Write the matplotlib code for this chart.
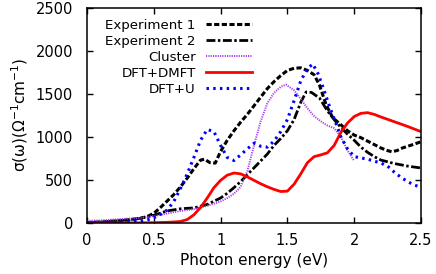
import numpy as np
import matplotlib
matplotlib.use('Agg')
import matplotlib.pyplot as plt

# Data
e_exp1 = [0, 0.1, 0.2, 0.3, 0.4, 0.45, 0.5, 0.55, 0.6, 0.65, 0.7, 0.75, 0.8, 0.85, 0.88, 0.92, 0.96,
          1.0, 1.05, 1.1, 1.15, 1.2, 1.25, 1.3, 1.35, 1.4, 1.45, 1.5, 1.55, 1.6, 1.65, 1.7, 1.74,
          1.79, 1.84, 1.9, 1.95, 2.0, 2.05, 2.1, 2.15, 2.2, 2.25, 2.28, 2.32, 2.36, 2.4, 2.45, 2.5]
s_exp1 = [5, 12, 22, 35, 55, 75, 112, 180, 255, 330, 420, 520, 630, 730, 740, 700, 695,
          830, 960, 1070, 1170, 1260, 1360, 1460, 1560, 1640, 1710, 1770, 1795, 1800, 1770, 1720, 1600,
          1370, 1220, 1140, 1070, 1020, 990, 950, 910, 870, 840, 827, 840, 870, 890, 915, 943]

e_exp2 = [0, 0.1, 0.2, 0.3, 0.4, 0.5, 0.6, 0.7, 0.8, 0.9, 1.0, 1.05, 1.1, 1.15, 1.2, 1.25, 1.3,
          1.35, 1.4, 1.45, 1.5, 1.55, 1.6, 1.64, 1.68, 1.74, 1.8, 1.85, 1.9, 1.95, 2.0, 2.05, 2.1,
          2.15, 2.2, 2.3, 2.4, 2.5]
s_exp2 = [5, 12, 22, 35, 55, 90, 140, 165, 175, 215, 290, 345, 410, 480, 560, 640, 720,
          800, 900, 980, 1070, 1200, 1400, 1520, 1515, 1450, 1300, 1200, 1110, 1030, 960, 880, 820,
          770, 730, 690, 660, 638]

e_cluster = [0, 0.1, 0.2, 0.3, 0.4, 0.5, 0.6, 0.7, 0.8, 0.9, 1.0, 1.05, 1.1, 1.15, 1.2, 1.25, 1.3,
             1.35, 1.4, 1.45, 1.49, 1.55, 1.6, 1.65, 1.7, 1.75, 1.8, 1.85, 1.9, 1.95, 2.0]
s_cluster = [25, 30, 40, 50, 60, 80, 110, 140, 160, 200, 250, 290, 340, 420, 600, 900, 1180,
             1390, 1510, 1580, 1605, 1540, 1440, 1330, 1240, 1180, 1130, 1100, 1000, 840, 720]

e_dmft = [0, 0.2, 0.4, 0.5, 0.6, 0.65, 0.7, 0.75, 0.8, 0.85, 0.9, 0.95, 1.0, 1.05, 1.1, 1.15, 1.2,
          1.25, 1.3, 1.35, 1.4, 1.45, 1.5, 1.55, 1.6, 1.65, 1.7, 1.75, 1.8, 1.85, 1.9, 1.95, 2.0,
          2.05, 2.1, 2.15, 2.2, 2.3, 2.4, 2.5]
s_dmft = [0, 0, 2, 4, 8, 12, 18, 40, 95, 180, 290, 410, 495, 555, 580, 570, 535,
          495, 455, 420, 390, 365, 370, 450, 570, 700, 770, 790, 815, 900, 1050, 1160, 1235,
          1272, 1280, 1260, 1230, 1175, 1120, 1060]

e_dftu = [0, 0.2, 0.4, 0.45, 0.5, 0.55, 0.6, 0.65, 0.7, 0.75, 0.8, 0.85, 0.9, 0.95, 1.0, 1.05,
          1.1, 1.15, 1.2, 1.25, 1.3, 1.35, 1.4, 1.45, 1.5, 1.55, 1.6, 1.65, 1.69, 1.73, 1.77, 1.82,
          1.87, 1.9, 1.95, 2.0, 2.1, 2.2, 2.25, 2.3, 2.35, 2.4, 2.45, 2.5]
s_dftu = [0, 5, 20, 35, 60, 100, 150, 250, 400, 570, 760, 960, 1085, 1060, 900, 760,
          725, 790, 860, 925, 890, 880, 950, 1060, 1200, 1420, 1650, 1790, 1845, 1730, 1560, 1330,
          1130, 1000, 860, 770, 740, 695, 660, 590, 530, 480, 440, 415]

labels = ['Experiment 1', 'Experiment 2', 'Cluster', 'DFT+DMFT', 'DFT+U']
x_ticks = [0, 0.5, 1, 1.5, 2, 2.5]
x_ticklabels = ['0', '0.5', '1', '1.5', '2', '2.5']
y_ticks = [0, 500, 1000, 1500, 2000, 2500]

plt.rcParams['font.family'] = ['DejaVu Sans']
plt.rcParams['mathtext.default'] = 'regular'

fig = plt.figure(figsize=(4.36, 2.74), dpi=100)
ax = fig.add_axes([87 / 436, 51 / 274, 334 / 436, 215.5 / 274])

ax.plot(e_exp1, s_exp1, color='black', lw=2.2, dashes=(1.7, 0.8), label=labels[0])
ax.plot(e_exp2, s_exp2, color='black', lw=2.0, dashes=(3.2, 0.9, 0.9, 0.9), label=labels[1])
ax.plot(e_cluster, s_cluster, color='#a838f0', lw=1.4, dashes=(0.6, 0.6), label=labels[2])
ax.plot(e_dmft, s_dmft, color='red', lw=2.0, label=labels[3])
ax.plot(e_dftu, s_dftu, color='blue', lw=2.2, dashes=(0.8, 1.4), label=labels[4])

ax.set_xlim(0, 2.5)
ax.set_ylim(0, 2500)
ax.set_xticks(x_ticks)
ax.set_xticklabels(x_ticklabels)
ax.set_yticks(y_ticks)
ax.tick_params(direction='in', length=4, width=1, top=True, right=True, labelsize=10.5)
ax.tick_params(axis='y', pad=10)
ax.tick_params(axis='x', pad=7)
for sp in ax.spines.values():
    sp.set_linewidth(1.1)

ax.set_xlabel('Photon energy (eV)', fontsize=11, labelpad=4)
ax.set_ylabel('σ(ω)(Ω$^{-1}$cm$^{-1}$)', fontsize=11, labelpad=4)

ax.legend(loc='upper right', bbox_to_anchor=(0.493, 0.947), frameon=False, markerfirst=False,
          fontsize=9.6, handlelength=3.4, handletextpad=0.8, labelspacing=0.22,
          borderpad=0, borderaxespad=0)

fig.savefig('out.png', dpi=100)
